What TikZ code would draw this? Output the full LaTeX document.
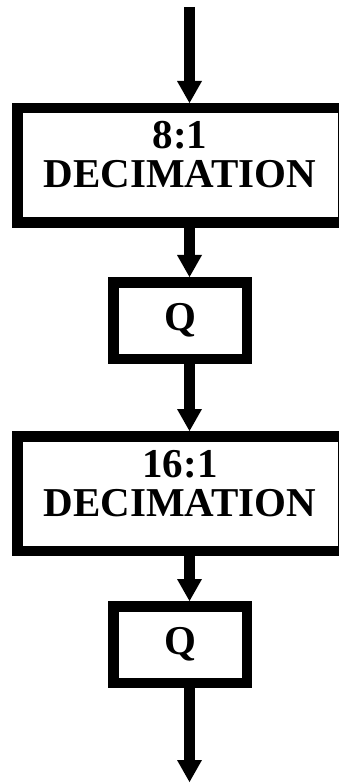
\documentclass[tikz,border=0pt]{standalone}
\usepackage{fontspec}
\setmainfont{Liberation Serif}
\usetikzlibrary{arrows.meta,positioning}
\begin{document}
\begin{tikzpicture}
  [x=1pt,y=-1pt,
   every node/.style={draw,line width=10.5pt,inner sep=0pt,font=\bfseries\fontsize{41}{39}\selectfont},
   decbox/.style={minimum width=325.5pt,minimum height=114.5pt,align=center,text height=67pt,text depth=22pt},
   qbox/.style={minimum width=133.5pt,minimum height=76.5pt},
   flow/.style={line width=11pt,-{Triangle[width=25pt,length=22pt,line width=0pt]}}]
  \useasboundingbox (0,0) rectangle (338,783);
  \node[decbox] (dec1) at (180,165.5) {8:1\\DECIMATION};
  \node[qbox,below=49pt of dec1] (q1) {Q};
  \node[decbox,below=67pt of q1] (dec2) {16:1\\DECIMATION};
  \node[qbox,below=45pt of dec2] (q2) {Q};
  \coordinate (in) at (189.5,7);
  \coordinate (out) at (189.5,782);
  \draw[flow] (in) -- (in |- dec1.north);
  \draw[flow] (dec1.south -| in) -- (q1.north -| in);
  \draw[flow] (q1.south -| in) -- (dec2.north -| in);
  \draw[flow] (dec2.south -| in) -- (q2.north -| in);
  \draw[flow] (q2.south -| in) -- (out);
\end{tikzpicture}
\end{document}
